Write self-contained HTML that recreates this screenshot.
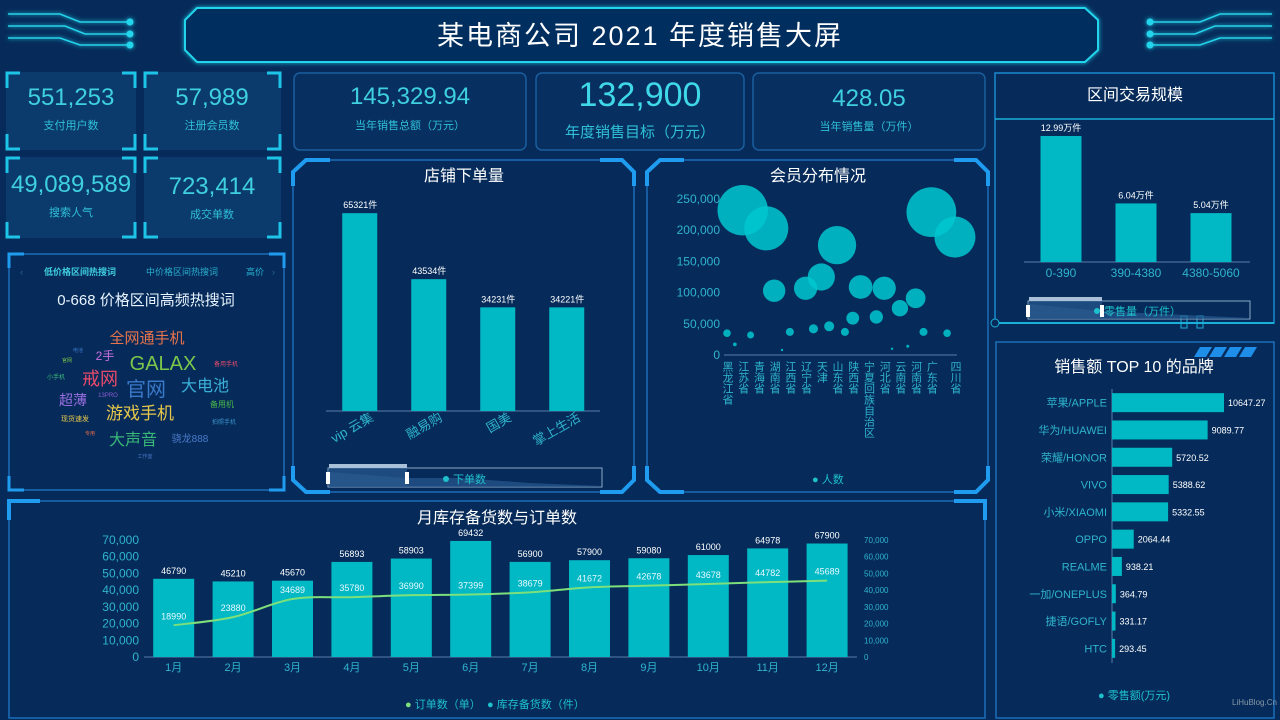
<!DOCTYPE html>
<html><head><meta charset="utf-8">
<style>
html,body{margin:0;padding:0;background:#062b5a;width:1280px;height:720px;overflow:hidden}
svg{display:block;font-family:"Liberation Sans","Noto Sans CJK SC",sans-serif}
</style></head>
<body>
<svg id="s" width="1280" height="720" viewBox="0 0 1280 720" xmlns="http://www.w3.org/2000/svg">
<defs>
<filter id="glow" x="-5%" y="-30%" width="110%" height="160%"><feGaussianBlur stdDeviation="2" result="b"/><feMerge><feMergeNode in="b"/><feMergeNode in="SourceGraphic"/></feMerge></filter>
</defs>
<rect x="0" y="0" width="1280" height="720" fill="#062b5a"/>

<!-- header -->
<g filter="url(#glow)" stroke="#22d4ec" fill="none" stroke-width="2">
<path d="M197,8 H1085 L1098,20 V50 L1085,62 H197 L185,50 V20 Z" fill="#062e5e"/>
<path d="M8,14 H60 L80,22 H130 M8,26 H65 L85,34 H130 M8,38 H60 L80,45 H130" stroke-width="1.5"/>
<path d="M1272,14 H1220 L1200,22 H1150 M1272,26 H1215 L1195,34 H1150 M1272,38 H1220 L1200,45 H1150" stroke-width="1.5"/>
<circle cx="130" cy="22" r="2.5" fill="#22d4ec"/><circle cx="130" cy="34" r="2.5" fill="#22d4ec"/><circle cx="130" cy="45" r="2.5" fill="#22d4ec"/>
<circle cx="1150" cy="22" r="2.5" fill="#22d4ec"/><circle cx="1150" cy="34" r="2.5" fill="#22d4ec"/><circle cx="1150" cy="45" r="2.5" fill="#22d4ec"/>
</g>
<text x="640" y="45" text-anchor="middle" font-size="27" fill="#ffffff" letter-spacing="2">某电商公司 2021 年度销售大屏</text>

<!-- small KPI boxes -->
<g font-size="11">
<rect x="6" y="72" width="130" height="78" fill="#0b3b6c"/>
<rect x="144" y="72" width="137" height="78" fill="#0b3b6c"/>
<rect x="6" y="157" width="130" height="81" fill="#0b3b6c"/>
<rect x="144" y="157" width="137" height="81" fill="#0b3b6c"/>
<g stroke="#1ec4e8" stroke-width="3" fill="none">
<path d="M7,88 V73 H20 M122,73 H135 V88 M7,134 V149 H20 M122,149 H135 V134"/>
<path d="M145,88 V73 H158 M267,73 H280 V88 M145,134 V149 H158 M267,149 H280 V134"/>
<path d="M7,173 V158 H20 M122,158 H135 V173 M7,222 V237 H20 M122,237 H135 V222"/>
<path d="M145,173 V158 H158 M267,158 H280 V173 M145,222 V237 H158 M267,237 H280 V222"/>
</g>
<text x="71" y="105" text-anchor="middle" font-size="24" fill="#3fd0e0">551,253</text>
<text x="71" y="129" text-anchor="middle" fill="#2fc0d8">支付用户数</text>
<text x="212" y="105" text-anchor="middle" font-size="24" fill="#3fd0e0">57,989</text>
<text x="212" y="129" text-anchor="middle" fill="#2fc0d8">注册会员数</text>
<text x="71" y="192" text-anchor="middle" font-size="24" fill="#3fd0e0">49,089,589</text>
<text x="71" y="216" text-anchor="middle" fill="#2fc0d8">搜索人气</text>
<text x="212" y="194" text-anchor="middle" font-size="24" fill="#3fd0e0">723,414</text>
<text x="212" y="218" text-anchor="middle" fill="#2fc0d8">成交单数</text>
</g>

<!-- medium KPI boxes -->
<g>
<rect x="294" y="73" width="232" height="77" rx="6" fill="#072f60" stroke="#1a5e9e" stroke-width="1.5"/>
<rect x="536" y="73" width="208" height="77" rx="6" fill="#072f60" stroke="#1a5e9e" stroke-width="1.5"/>
<rect x="753" y="73" width="232" height="77" rx="6" fill="#072f60" stroke="#1a5e9e" stroke-width="1.5"/>
<text x="410" y="104" text-anchor="middle" font-size="24" fill="#3fd0e0">145,329.94</text>
<text x="410" y="129" text-anchor="middle" font-size="11" fill="#2fc0d8">当年销售总额（万元）</text>
<text x="640" y="106" text-anchor="middle" font-size="34" fill="#3fd8e8">132,900</text>
<text x="640" y="137" text-anchor="middle" font-size="15" fill="#2fc0d8">年度销售目标（万元）</text>
<text x="869" y="106" text-anchor="middle" font-size="24" fill="#3fd0e0">428.05</text>
<text x="869" y="130" text-anchor="middle" font-size="11" fill="#2fc0d8">当年销售量（万件）</text>
</g>

<!-- panels -->
<g fill="none">
<rect x="9" y="254" width="275" height="236" stroke="#1a6eb8" stroke-width="1.5"/>
<path d="M9,268 V254 H24 M269,254 H284 V268 M9,476 V490 H24 M269,490 H284 V476" stroke="#1f9cf0" stroke-width="3"/>
<path d="M306,160 H622 L634,172 V480 L622,492 H306 L293,480 V172 Z" stroke="#1a6eb8" stroke-width="1.5"/>
<path d="M293,186 V172 L306,160 H330 M600,160 H622 L634,172 V186 M293,466 V480 L306,492 H330 M600,492 H622 L634,480 V466" stroke="#1f9cf0" stroke-width="4"/>
<path d="M660,160 H976 L988,172 V480 L976,492 H660 L647,480 V172 Z" stroke="#1a6eb8" stroke-width="1.5"/>
<path d="M647,186 V172 L660,160 H684 M954,160 H976 L988,172 V186 M647,466 V480 L660,492 H684 M954,492 H976 L988,480 V466" stroke="#1f9cf0" stroke-width="4"/>
<rect x="995" y="73" width="279" height="250" stroke="#1a8ad0" stroke-width="1.5"/>
<line x1="995" y1="119" x2="1274" y2="119" stroke="#1ab0d8" stroke-width="1.5"/>
<line x1="995" y1="323" x2="1274" y2="323" stroke="#1ab0d8" stroke-width="2"/>
<circle cx="995" cy="323" r="4" stroke="#1ab0d8" fill="#062b5a"/>
<rect x="1181" y="316" width="6" height="12" stroke="#1ab0d8"/><rect x="1197" y="316" width="6" height="12" stroke="#1ab0d8"/>
<rect x="996" y="342" width="278" height="376" stroke="#1a6eb8" stroke-width="1.5"/>
<path d="M1200,347 h12 l-6,10 h-12z M1215,347 h12 l-6,10 h-12z M1230,347 h12 l-6,10 h-12z M1245,347 h12 l-6,10 h-12z" fill="#1f8ee8" stroke="none"/>
<rect x="9" y="501" width="976" height="217" stroke="#1a6eb8" stroke-width="1.5"/>
<path d="M9,520 V501 H40 M954,501 H985 V520" stroke="#1f9cf0" stroke-width="4"/>
</g>

<!-- word cloud -->
<g>
<text x="20" y="275" font-size="9" fill="#2a6a9a">‹</text>
<text x="80" y="275" text-anchor="middle" font-size="9" font-weight="bold" fill="#40d0e0">低价格区间热搜词</text>
<text x="182" y="275" text-anchor="middle" font-size="9" fill="#2ab0d0">中价格区间热搜词</text>
<text x="255" y="275" text-anchor="middle" font-size="9" fill="#2ab0d0">高价</text>
<text x="272" y="275" font-size="9" fill="#2a6a9a">›</text>
<text x="146" y="305" text-anchor="middle" font-size="15" fill="#e8f4ff">0-668 价格区间高频热搜词</text>
<g text-anchor="middle">
<text x="147" y="343" font-size="15" fill="#e8734a">全网通手机</text>
<text x="105" y="360" font-size="12" fill="#c86ee0">2手</text>
<text x="163" y="370" font-size="20" fill="#7bc74b">GALAX</text>
<text x="100" y="385" font-size="18" fill="#e84a6a">戒网</text>
<text x="146" y="396" font-size="20" fill="#3a78c8">官网</text>
<text x="205" y="391" font-size="16" fill="#3ab0d8">大电池</text>
<text x="73" y="405" font-size="14" fill="#9a6ee0">超薄</text>
<text x="108" y="397" font-size="6" fill="#8a5ad0">13PRO</text>
<text x="140" y="419" font-size="17" fill="#e8c84a">游戏手机</text>
<text x="75" y="421" font-size="7" fill="#e8c84a">现货速发</text>
<text x="222" y="407" font-size="8" fill="#4ab848">备用机</text>
<text x="133" y="445" font-size="16" fill="#3ab878">大声音</text>
<text x="190" y="442" font-size="10" fill="#4a78c8">骁龙888</text>
<text x="224" y="424" font-size="6" fill="#3a90c8">拍照手机</text>
<text x="90" y="435" font-size="5" fill="#e86a4a">专用</text>
<text x="145" y="458" font-size="5" fill="#4a78c8">工作室</text>
<text x="226" y="366" font-size="6" fill="#e84a6a">备用手机</text>
<text x="56" y="379" font-size="6" fill="#3ab878">小手机</text>
<text x="67" y="362" font-size="5" fill="#7bc74b">官网</text>
<text x="78" y="352" font-size="5" fill="#3a78c8">电池</text>
</g>
</g>

<!-- chart titles -->
<text x="464" y="181" text-anchor="middle" font-size="16" fill="#ffffff">店铺下单量</text>
<text x="818" y="181" text-anchor="middle" font-size="16" fill="#ffffff">会员分布情况</text>
<text x="1135" y="100" text-anchor="middle" font-size="16" fill="#ffffff">区间交易规模</text>
<text x="1134" y="372" text-anchor="middle" font-size="16" fill="#ffffff">销售额 TOP 10 的品牌</text>
<text x="497" y="523" text-anchor="middle" font-size="16" fill="#ffffff">月库存备货数与订单数</text>

<!-- sliders -->
<g>
<rect x="328" y="468" width="274" height="19" fill="none" stroke="#8aa8c8" stroke-width="1"/>
<path d="M329,472 L406,478 L460,478 L530,483 L601,486 V487 H329Z" fill="#2a5a8e" opacity="0.7"/>
<rect x="329" y="464" width="78" height="23" fill="#2a5a8e" opacity="0.7"/>
<rect x="329" y="464" width="78" height="4" fill="#aac0d8"/>
<rect x="326" y="472" width="4" height="12" fill="#fff"/><rect x="405" y="472" width="4" height="12" fill="#fff"/>
<circle cx="446" cy="479" r="3" fill="#1ec0cc"/>
<text x="453" y="483" font-size="11" fill="#1ec0cc">下单数</text>
</g>
<g>
<rect x="1028" y="301" width="222" height="18" fill="none" stroke="#8aa8c8" stroke-width="1"/>
<path d="M1029,304 L1100,311 L1249,318 V319 H1029Z" fill="#2a5a8e" opacity="0.7"/>
<rect x="1029" y="297" width="73" height="22" fill="#2a5a8e" opacity="0.7"/>
<rect x="1029" y="297" width="73" height="4" fill="#aac0d8"/>
<rect x="1026" y="305" width="4" height="12" fill="#fff"/><rect x="1100" y="305" width="4" height="12" fill="#fff"/>
<circle cx="1097" cy="311" r="3" fill="#1ec0cc"/>
<text x="1104" y="315" font-size="11" fill="#1ec0cc">零售量（万件）</text>
</g>

<g id="store"></g>
<g id="member"></g>
<g id="range"></g>
<g id="top"></g>
<g id="inv"></g>

<text x="812" y="483" font-size="11" fill="#1ec0cc">● 人数</text>
<text x="1098" y="699" font-size="11" fill="#1ec0cc">● 零售额(万元)</text>
<text x="1232" y="705" font-size="8" fill="#8898a8">LiHuBlog.Cn</text>
<text x="405" y="708" font-size="11" fill="#7de07a">● <tspan fill="#1ec0cc">订单数（单）</tspan></text>
<text x="487" y="708" font-size="11" fill="#1ec0cc">● 库存备货数（件）</text>
</svg>

<script>
// ---- data ----
const storeNames = ["vip 云集", "融易购", "国美", "掌上生活"];
const storeValues = [65321, 43534, 34231, 34221];

const provinceLabels = ["黑龙江省","","江苏省","","青海省","","湖南省","","江西省","","辽宁省","","天津","","山东省","","陕西省","","宁夏回族自治区","","河北省","","云南省","","河南省","","广东省","","","四川省"];
const memberValues = [35000,17000,232000,32000,null,203000,103000,8000,37000,null,107000,42000,125000,46000,176000,37000,59000,109000,null,61000,107000,10000,75000,14000,91000,37000,229000,null,35000,189000];
const memberTicks = [0,50000,100000,150000,200000,250000];

const rangeNames = ["0-390","390-4380","4380-5060"];
const rangeValues = [12.99, 6.04, 5.04];

const brandNames = ["苹果/APPLE","华为/HUAWEI","荣耀/HONOR","VIVO","小米/XIAOMI","OPPO","REALME","一加/ONEPLUS","捷语/GOFLY","HTC"];
const brandValues = [10647.27, 9089.77, 5720.52, 5388.62, 5332.55, 2064.44, 938.21, 364.79, 331.17, 293.45];

const months = ["1月","2月","3月","4月","5月","6月","7月","8月","9月","10月","11月","12月"];
const inventoryValues = [46790,45210,45670,56893,58903,69432,56900,57900,59080,61000,64978,67900];
const orderValues = [18990,23880,34689,35780,36990,37399,38679,41672,42678,43678,44782,45689];
const invTicks = [0,10000,20000,30000,40000,50000,60000,70000];

const NS = "http://www.w3.org/2000/svg";
function mk(tag, attrs, parent){const e=document.createElementNS(NS,tag);for(const k in attrs)e.setAttribute(k,attrs[k]);parent.appendChild(e);return e;}
const BAR="#00b9c4", AX="#2fb4cc";

// ---- store chart ----
(function(){
  const g=document.getElementById('store');
  const y=v=>411-v/70000*212, x0=326, step=68.5;
  mk('line',{x1:326,y1:411,x2:600,y2:411,stroke:'#5a7ea8'},g);
  storeValues.forEach((v,i)=>{
    const cx=x0+step*(i+0.5)+(i*0.5);
    const r=mk('rect',{x:cx-18,y:y(v),width:35,height:411-y(v),fill:BAR},g);
    
    
    const t=mk('text',{x:cx,y:y(v)-5,'text-anchor':'middle','font-size':9,fill:'#fff'},g);
    t.textContent=v+'件';
    
    
    const l=mk('text',{x:cx+14,y:420,'text-anchor':'end','font-size':13,fill:AX,transform:`rotate(-30 ${cx+14} 420)`},g);
    l.textContent=storeNames[i];
    
    
  });
})();

// ---- member bubble chart ----
(function(){
  const g=document.getElementById('member');
  const y=v=>355-v/250000*156, x=i=>727+i*7.86;
  memberTicks.forEach(t=>{
    const e=mk('text',{x:720,y:y(t)+4,'text-anchor':'end','font-size':12,fill:AX},g);
    e.textContent=t.toLocaleString('en-US');
    
    
  });
  mk('line',{x1:724,y1:355,x2:957,y2:355,stroke:'#5a7ea8'},g);
  provinceLabels.forEach((p,i)=>{
    if(!p) return;
    const e=mk('text',{x:x(i),y:361,'font-size':11,fill:AX,style:'writing-mode:vertical-rl'},g);
    e.textContent=p;
    
    
  });
  memberValues.forEach((v,i)=>{
    if(v==null) return;
    const c=mk('circle',{cx:x(i),cy:y(v),r:Math.max(1.2,v/9200),fill:'#00c8d0','fill-opacity':0.85},g);
    
    
  });
})();

// ---- range chart ----
(function(){
  const g=document.getElementById('range');
  const y=v=>262-v*9.7, x0=1024, step=75;
  mk('line',{x1:1024,y1:262,x2:1250,y2:262,stroke:'#5a7ea8'},g);
  rangeValues.forEach((v,i)=>{
    const cx=x0+step*(i+0.5)-0.5;
    const r=mk('rect',{x:cx-20.5,y:y(v),width:41,height:262-y(v),fill:BAR},g);
    
    
    const t=mk('text',{x:cx,y:y(v)-5,'text-anchor':'middle','font-size':9,fill:'#fff'},g);
    t.textContent=v+'万件';
    
    
    const l=mk('text',{x:cx,y:277,'text-anchor':'middle','font-size':12,fill:AX},g);
    l.textContent=rangeNames[i];
    
    
  });
})();

// ---- top10 chart ----
(function(){
  const g=document.getElementById('top');
  const x=v=>v*0.01052, y0=389, step=27.3;
  mk('line',{x1:1112,y1:389,x2:1112,y2:663,stroke:'#5a7ea8'},g);
  brandValues.forEach((v,i)=>{
    const cy=y0+step*(i+0.5);
    const r=mk('rect',{x:1112,y:cy-9.5,width:x(v),height:19,fill:BAR},g);
    
    
    const t=mk('text',{x:1112+x(v)+4,y:cy+3.5,'font-size':9,fill:'#fff'},g);
    t.textContent=v.toFixed(2);
    
    
    const l=mk('text',{x:1107,y:cy+4,'text-anchor':'end','font-size':11,fill:AX},g);
    l.textContent=brandNames[i];
    
    
  });
})();

// ---- inventory / orders chart ----
(function(){
  const g=document.getElementById('inv');
  const y=v=>657-v/70000*117, x0=144, step=59.4, x=i=>x0+step*(i+0.5);
  invTicks.forEach(t=>{
    const a=mk('text',{x:139,y:y(t)+4,'text-anchor':'end','font-size':12,fill:AX},g);
    a.textContent=t.toLocaleString('en-US');
    
    
    const b=mk('text',{x:864,y:y(t)+3,'font-size':8,fill:AX},g);
    b.textContent=t.toLocaleString('en-US');
    
    
  });
  mk('line',{x1:144,y1:657,x2:857,y2:657,stroke:'#5a7ea8'},g);
  inventoryValues.forEach((v,i)=>{
    const r=mk('rect',{x:x(i)-20.5,y:y(v),width:41,height:657-y(v),fill:BAR},g);
    
    
    const t=mk('text',{x:x(i),y:y(v)-5,'text-anchor':'middle','font-size':9,fill:'#fff'},g);
    t.textContent=v;
    
    
    const l=mk('text',{x:x(i),y:671,'text-anchor':'middle','font-size':11,fill:AX},g);
    l.textContent=months[i];
    
    
  });
  const pts=orderValues.map((v,i)=>[x(i),y(v)]);
  let d=`M${pts[0][0]},${pts[0][1]}`;
  for(let i=0;i<pts.length-1;i++){
    const p0=pts[Math.max(0,i-1)],p1=pts[i],p2=pts[i+1],p3=pts[Math.min(pts.length-1,i+2)];
    const c1=[p1[0]+(p2[0]-p0[0])/6,p1[1]+(p2[1]-p0[1])/6],c2=[p2[0]-(p3[0]-p1[0])/6,p2[1]-(p3[1]-p1[1])/6];
    d+=` C${c1[0]},${c1[1]} ${c2[0]},${c2[1]} ${p2[0]},${p2[1]}`;
  }
  const line=mk('path',{d:d,fill:'none',stroke:'#7de07a','stroke-width':2},g);
  
  
  orderValues.forEach((v,i)=>{
    const t=mk('text',{x:x(i),y:y(v)-6,'text-anchor':'middle','font-size':9,fill:'#e8f8ff'},g);
    t.textContent=v;
    
    
  });
})();
</script>
</body></html>
